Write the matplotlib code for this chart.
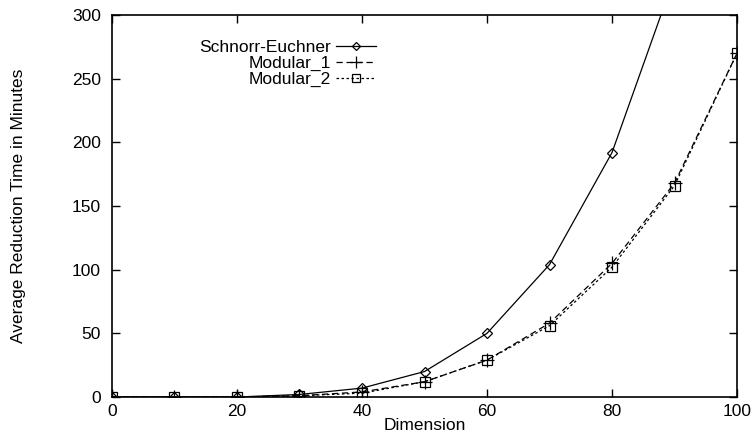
import matplotlib
matplotlib.use("Agg")
import matplotlib.pyplot as plt

plt.rcParams["font.family"] = ["Liberation Sans", "DejaVu Sans"]

# 数据
dims = [0, 10, 20, 30, 40, 50, 60, 70, 80, 90, 100]
schnorr_x = [0, 10, 20, 30, 40, 50, 60, 70, 80, 90]
schnorr = [0, 0, 0, 2, 7, 20, 50, 104, 192, 330]
modular1 = [0, 0, 0, 1, 4, 12, 29, 58, 105, 168, 270]
modular2 = [0, 0, 0, 1, 3, 12, 29, 56, 102, 166, 270]

fs = 12.5

fig = plt.figure(figsize=(7.53, 4.43), dpi=100)
ax = fig.add_axes([0.1487, 0.1038, 0.8301, 0.8623])

ax.plot(schnorr_x, schnorr, color="black", lw=0.9, marker="D", ms=5.5,
        mfc="none", mew=0.9, label="Schnorr-Euchner")
ax.plot(dims, modular1, color="black", lw=0.9, dashes=(5, 3), marker="+",
        ms=10, mew=0.9, label="Modular_1")
ax.plot(dims, modular2, color="black", lw=0.9, dashes=(2, 2), marker="s",
        ms=7.5, mfc="none", mew=0.9, label="Modular_2")

ax.set_xlim(0, 100)
ax.set_ylim(0, 300)
ax.set_xticks(range(0, 101, 20))
ax.set_yticks(range(0, 301, 50))
ax.tick_params(direction="in", top=True, right=True, length=6, width=1,
               labelsize=fs)
ax.tick_params(axis="y", pad=8)
ax.tick_params(axis="x", pad=5)
for s in ax.spines.values():
    s.set_linewidth(1.2)

ax.set_xlabel("Dimension", fontsize=fs, labelpad=-1)
ax.set_ylabel("Average Reduction Time in Minutes", fontsize=fs, labelpad=33)

leg = ax.legend(loc="upper right", bbox_to_anchor=(0.436, 0.958),
                frameon=False, markerfirst=False, fontsize=fs,
                handlelength=2.3, handletextpad=0.3, labelspacing=0.05,
                borderpad=0, markerscale=0.8)
for t in leg.get_texts():
    t.set_ha("right")

fig.savefig("out.png", dpi=100)
